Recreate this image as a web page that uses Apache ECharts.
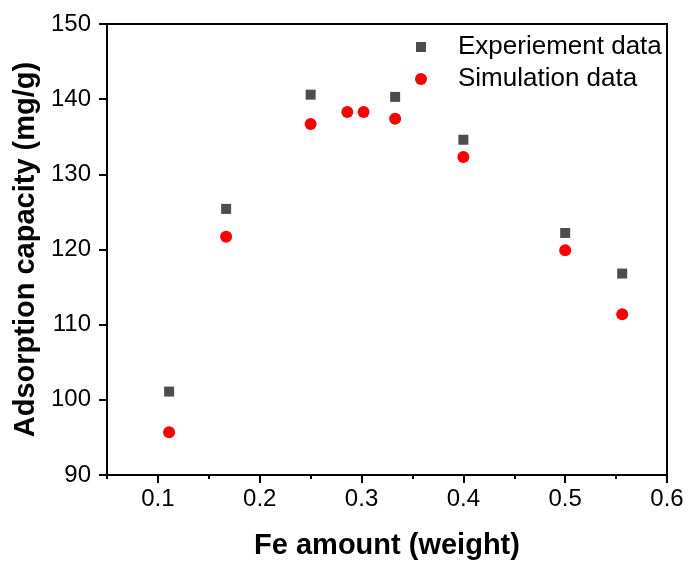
<!DOCTYPE html>
<html>
<head>
<meta charset="utf-8">
<script src="https://cdn.jsdelivr.net/npm/echarts@6/dist/echarts.min.js"></script>
<style>
  html, body { margin: 0; padding: 0; background: #fff; }
  #chart { width: 689px; height: 565px; }
</style>
</head>
<body>
<div id="chart"></div>
<script>
// Fe loading (weight fraction) and adsorption capacity (mg/g)
const expX = [0.111, 0.167, 0.25, 0.333, 0.4, 0.5, 0.556];
const expY = [101.1, 125.4, 140.6, 140.3, 134.6, 122.2, 116.8];
const simX = [0.111, 0.167, 0.25, 0.286, 0.302, 0.333, 0.4, 0.5, 0.556];
const simY = [95.7, 121.7, 136.7, 138.3, 138.3, 137.4, 132.3, 119.9, 111.4];

const xMajorTicks = [0.1, 0.2, 0.3, 0.4, 0.5, 0.6];
const xMinorTicks = [0.05, 0.15, 0.25, 0.35, 0.45, 0.55];

const seriesNames = ['Experiement data', 'Simulation data'];
const xTitle = 'Fe amount (weight)';
const yTitle = 'Adsorption capacity (mg/g)';

const FONT = '"Liberation Sans", Arial, sans-serif';

const pairs = (xs, ys) => xs.map((x, i) => [x, ys[i]]);

const chart = echarts.init(document.getElementById('chart'), null, { renderer: 'canvas' });

chart.setOption({
  backgroundColor: '#ffffff',
  animation: false,
  textStyle: { fontFamily: FONT },
  grid: {
    left: 107, top: 24, right: 22, bottom: 90,
    show: true, borderColor: '#000', borderWidth: 2, backgroundColor: 'transparent'
  },
  legend: [
    {
      data: [seriesNames[0]],
      left: 411, top: 28,
      icon: 'rect', itemWidth: 10, itemHeight: 10,
      itemStyle: { opacity: 1 },
      textStyle: { fontFamily: FONT, fontSize: 26, lineHeight: 28, color: '#000', padding: [0, 0, 0, 27] }
    },
    {
      data: [seriesNames[1]],
      left: 410, top: 60,
      icon: 'circle', itemWidth: 12, itemHeight: 12,
      itemStyle: { opacity: 1 },
      textStyle: { fontFamily: FONT, fontSize: 26, lineHeight: 28, color: '#000', padding: [0, 0, 0, 26] }
    }
  ],
  xAxis: [
    {
      type: 'value', min: 0.05, max: 0.6,
      name: xTitle, nameLocation: 'middle', nameGap: 56,
      nameTextStyle: { fontFamily: FONT, fontSize: 29, fontWeight: 'bold', color: '#000' },
      axisLine: { show: true, onZero: false, lineStyle: { color: '#000', width: 2 } },
      axisTick: { show: true, inside: false, length: 8, lineStyle: { color: '#000', width: 2 }, customValues: xMajorTicks },
      axisLabel: {
        show: true, margin: 12, customValues: xMajorTicks,
        fontFamily: FONT, fontSize: 24, color: '#000',
        formatter: v => v.toFixed(1)
      },
      splitLine: { show: false }
    },
    {
      // minor ticks halfway between the labelled ones
      type: 'value', min: 0.05, max: 0.6, position: 'bottom',
      axisLine: { show: false, onZero: false },
      axisTick: { show: true, inside: false, length: 4, lineStyle: { color: '#000', width: 2 }, customValues: xMinorTicks },
      axisLabel: { show: false },
      splitLine: { show: false }
    }
  ],
  yAxis: {
    type: 'value', min: 90, max: 150, interval: 10,
    name: yTitle, nameLocation: 'middle', nameGap: 62, nameRotate: 90,
    nameTextStyle: { fontFamily: FONT, fontSize: 29, fontWeight: 'bold', color: '#000' },
    axisLine: { show: true, onZero: false, lineStyle: { color: '#000', width: 2 } },
    axisTick: { show: true, inside: false, length: 8, lineStyle: { color: '#000', width: 2 } },
    axisLabel: { margin: 16, fontFamily: FONT, fontSize: 24, color: '#000' },
    splitLine: { show: false }
  },
  series: [
    {
      name: seriesNames[0], type: 'scatter', xAxisIndex: 0,
      symbol: 'rect', symbolSize: 10,
      itemStyle: { color: '#4d4d4d', opacity: 1 },
      data: pairs(expX, expY)
    },
    {
      name: seriesNames[1], type: 'scatter', xAxisIndex: 0,
      symbol: 'circle', symbolSize: 12,
      itemStyle: { color: '#ff0000', opacity: 1 },
      data: pairs(simX, simY)
    }
  ]
});
</script>
</body>
</html>
